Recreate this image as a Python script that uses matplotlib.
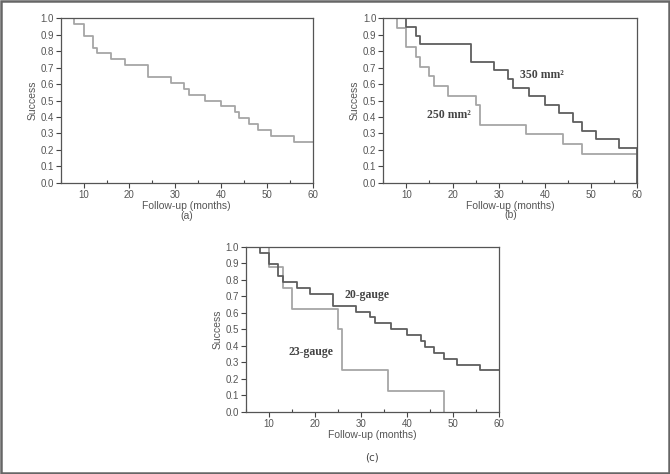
import numpy as np
import matplotlib
matplotlib.use("Agg")
import matplotlib.pyplot as plt
from matplotlib.patches import Rectangle
from matplotlib.ticker import MultipleLocator

plt.rcParams['font.family'] = ['Liberation Sans', 'DejaVu Sans']

# (a) all eyes
a_t = [5, 8, 10, 12, 13, 16, 19, 24, 29, 32, 33, 36.5, 40, 43, 44, 46, 48, 51, 56, 60]
a_s = [1.0, 0.964, 0.893, 0.821, 0.786, 0.75, 0.714, 0.643, 0.607, 0.571, 0.536,
       0.5, 0.464, 0.429, 0.393, 0.357, 0.321, 0.286, 0.25, 0.25]

# (b) 350 mm2 vs 250 mm2
b350_t = [5, 10, 12, 13, 24, 29, 32, 33, 36.5, 40, 43, 46, 48, 51, 56, 60]
b350_s = [1.0, 0.947, 0.895, 0.842, 0.737, 0.684, 0.632, 0.579, 0.526, 0.474,
          0.421, 0.368, 0.316, 0.263, 0.211, 0.0]
b250_t = [5, 8, 10, 12, 13, 15, 16, 19, 25, 26, 36, 44, 48, 60]
b250_s = [1.0, 0.941, 0.824, 0.765, 0.706, 0.647, 0.588, 0.529, 0.471, 0.353,
          0.294, 0.235, 0.176, 0.176]

# (c) 20-gauge vs 23-gauge
c20_t = a_t
c20_s = a_s
c23_t = [5, 10, 13, 15, 25, 26, 36, 48]
c23_s = [1.0, 0.875, 0.75, 0.625, 0.5, 0.25, 0.125, 0.0]

LIGHT = '#a6a6a6'
DARK = '#5e5e5e'
W, H = 670, 474

fig = plt.figure(figsize=(6.7, 4.74), dpi=100)


def make_ax(left, top, right, bottom):
    ax = fig.add_axes([left / W, 1 - bottom / H, (right - left) / W, (bottom - top) / H])
    ax.set_xlim(5, 60)
    ax.set_ylim(0, 1.0)
    ax.xaxis.set_major_locator(MultipleLocator(10))
    ax.xaxis.set_minor_locator(MultipleLocator(5))
    ax.yaxis.set_major_locator(MultipleLocator(0.1))
    ax.yaxis.set_major_formatter(matplotlib.ticker.FormatStrFormatter('%.1f'))
    ax.tick_params(axis='both', which='major', direction='out', length=3.5, width=0.8,
                   labelsize=7, colors='#444444', labelcolor='#555555', pad=1.5)
    ax.tick_params(axis='x', which='minor', direction='in', length=2.5, width=0.8, colors='#444444')
    for s in ax.spines.values():
        s.set_color('#555555')
        s.set_linewidth(0.9)
    ax.set_ylabel('Success', fontsize=7.5, color='#555555', labelpad=2)
    return ax


# panel (a)
ax1 = make_ax(60.7, 18.3, 312.7, 182.7)
ax1.step(a_t, a_s, where='post', color=LIGHT, lw=1.3)
ax1.set_xlabel('Follow-up (months)\n(a)', fontsize=7.5, color='#555555', labelpad=1,
               linespacing=1.05)

# panel (b)
ax2 = make_ax(383.3, 18.3, 637.3, 182.7)
ax2.step(b250_t, b250_s, where='post', color=LIGHT, lw=1.3)
ax2.step(b350_t, b350_s, where='post', color=DARK, lw=1.3)
ax2.set_xlabel('Follow-up (months)\n(b)', fontsize=7.5, color='#555555', labelpad=1,
               linespacing=0.9)
ax2.text(34.7, 0.655, '350 mm²', fontsize=8.5, fontweight='bold', color='#444444',
         family='Liberation Serif', va='center', ha='left')
ax2.text(14.4, 0.41, '250 mm²', fontsize=8.5, fontweight='bold', color='#444444',
         family='Liberation Serif', va='center', ha='left')

# panel (c)
ax3 = make_ax(246, 246.7, 498.7, 411.7)
ax3.step(c23_t, c23_s, where='post', color=LIGHT, lw=1.3)
ax3.step(c20_t, c20_s, where='post', color=DARK, lw=1.3)
ax3.set_xlabel('Follow-up (months)', fontsize=7.5, color='#555555', labelpad=1)
ax3.text(26.4, 0.707, '20-gauge', fontsize=8.5, fontweight='bold', color='#444444',
         family='Liberation Serif', va='center', ha='left')
ax3.text(14.2, 0.364, '23-gauge', fontsize=8.5, fontweight='bold', color='#444444',
         family='Liberation Serif', va='center', ha='left')
fig.text(372 / W, 1 - 457 / H, '(c)', fontsize=7.5, color='#444444', ha='center', va='center',
         family='DejaVu Sans')

# outer frame
fig.patches.append(Rectangle((0.001, 0.002), 0.997, 0.996, transform=fig.transFigure,
                             fill=False, edgecolor='#666666', lw=1.8))

fig.savefig('out.png', dpi=100)
